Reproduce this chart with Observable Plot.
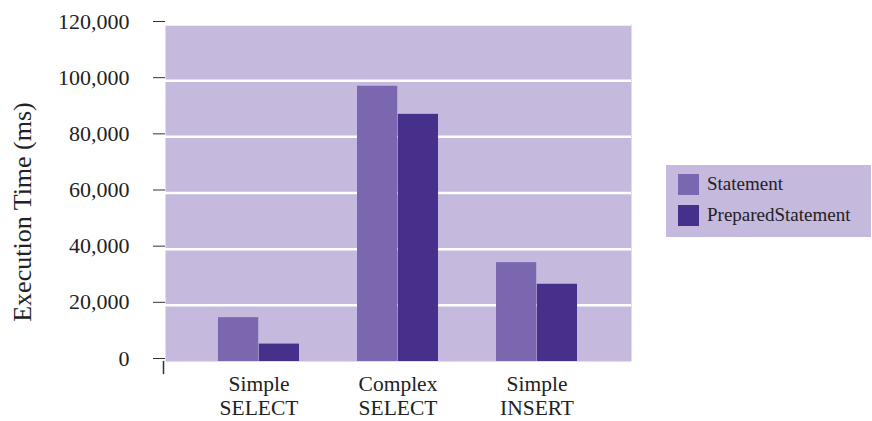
<!DOCTYPE html>
<html>
<head>
<meta charset="utf-8">
<script src="https://cdn.jsdelivr.net/npm/d3@7"></script>
<script src="https://cdn.jsdelivr.net/npm/@observablehq/plot@0.6"></script>
<style>
  html, body { margin: 0; padding: 0; background: #fff; }
  #wrap { position: relative; width: 872px; height: 421px; font-family: "Liberation Serif", "DejaVu Serif", serif; }
  #legend { position: absolute; left: 666px; top: 165px; width: 205px; height: 72px; background: #C5B9DD; }
  .item { position: absolute; left: 12px; height: 22px; display: flex; align-items: center; font-size: 19px; color: #222; }
  .sw { width: 21px; height: 21px; margin-right: 8px; }
</style>
</head>
<body>
<div id="wrap"><div id="legend"></div></div>
<script>
const categories = ["Simple SELECT", "Complex SELECT", "Simple INSERT"];
const categoryLabels = ["Simple\nSELECT", "Complex\nSELECT", "Simple\nINSERT"];
const seriesNames = ["Statement", "PreparedStatement"];
const statementValues = [15600, 98000, 35200];
const preparedValues = [6200, 88000, 27500];
const yTicks = [0, 20000, 40000, 60000, 80000, 100000, 120000];
const seriesColors = ["#7A67AF", "#46308B"];
const bgColor = "#C5B9DD";

const W = 872, H = 421, mL = 165, mR = 241;
const padInner = 0.416, padOuter = 0.376;
const step = (W - mL - mR) / (categories.length - padInner + 2 * padOuter);
const halfBand = step * (1 - padInner) / 2;

const statementData = categories.map((c, i) => ({category: c, series: seriesNames[0], value: statementValues[i]}));
const preparedData = categories.map((c, i) => ({category: c, series: seriesNames[1], value: preparedValues[i]}));

const cornerShape = {draw(context, l) { context.moveTo(0, 0); context.lineTo(0, -l); }};

const chart = Plot.plot({
  width: W,
  height: H,
  marginLeft: mL,
  marginRight: mR,
  marginTop: 24,
  marginBottom: 60,
  style: {fontFamily: "Liberation Serif", fontSize: "22px", color: "#222", background: "transparent", overflow: "visible"},
  x: {domain: categories, paddingInner: padInner, paddingOuter: padOuter},
  y: {domain: [0, 120000]},
  color: {domain: seriesNames, range: seriesColors},
  marks: [
    Plot.frame({fill: bgColor, stroke: null}),
    Plot.gridY(yTicks.filter(t => t > 0), {stroke: "white", strokeWidth: 2.5, strokeOpacity: 1}),
    Plot.barY(statementData, {x: "category", y: "value", fill: "series", insetRight: halfBand}),
    Plot.barY(preparedData, {x: "category", y: "value", fill: "series", insetLeft: halfBand}),
    Plot.axisY({ticks: yTicks, tickSize: 12, tickPadding: 24, tickFormat: d3.format(","), label: null, fontSize: 22, dy: -3, stroke: "#333"}),
    Plot.vector([0], {y: d => d, frameAnchor: "left", dx: -2, length: 12, rotate: 180, anchor: "start", shape: cornerShape, stroke: "#333", strokeWidth: 1.5}),
    Plot.axisX({tickSize: 0, tickPadding: 13, label: null, fontSize: 21.5, lineHeight: 1.1,
      tickFormat: d => categoryLabels[categories.indexOf(d)]}),
    Plot.text(["Execution Time (ms)"], {frameAnchor: "left", textAnchor: "middle", rotate: -90, dx: -143, dy: 19, fontSize: 26, fill: "#222"})
  ]
});
document.getElementById("wrap").prepend(chart);

const legend = document.getElementById("legend");
seriesNames.forEach((s, i) => {
  const item = document.createElement("div");
  item.className = "item";
  item.style.top = (8 + i * 31) + "px";
  const sw = document.createElement("div");
  sw.className = "sw";
  sw.style.background = seriesColors[i];
  const t = document.createElement("span");
  t.textContent = s;
  item.append(sw, t);
  legend.append(item);
});
</script>
</body>
</html>
